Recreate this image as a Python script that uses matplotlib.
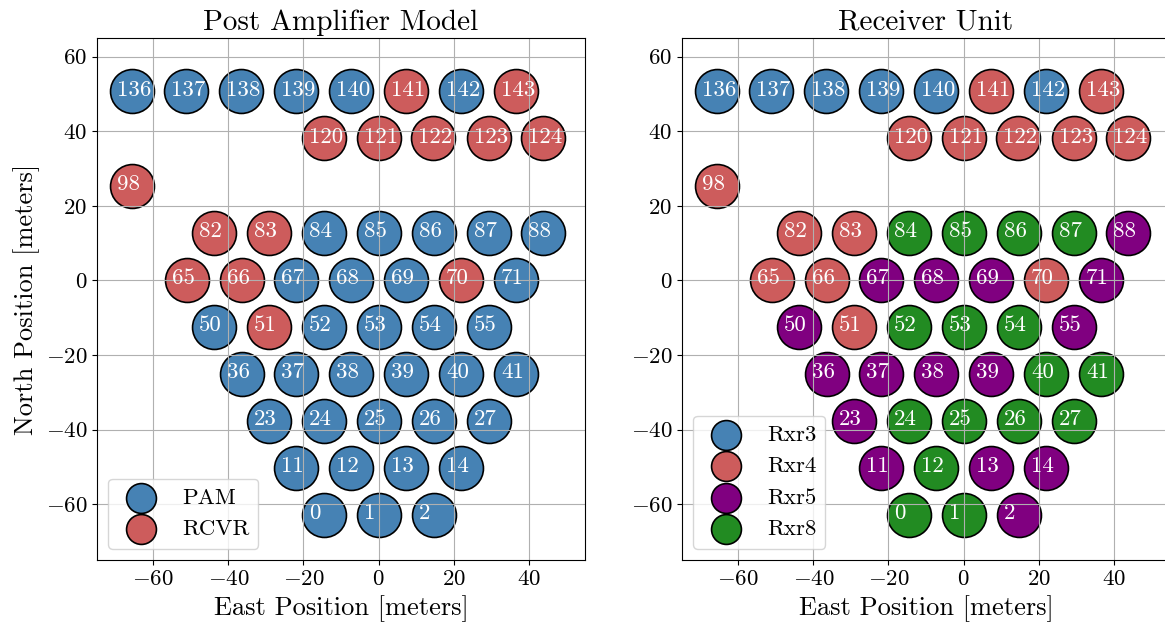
import matplotlib
matplotlib.use("Agg")
import matplotlib.pyplot as plt

# numeros de antena y posiciones (metros)
antennas = [136, 137, 138, 139, 140, 141, 142, 143,
            120, 121, 122, 123, 124,
            98,
            82, 83, 84, 85, 86, 87, 88,
            65, 66, 67, 68, 69, 70, 71,
            50, 51, 52, 53, 54, 55,
            36, 37, 38, 39, 40, 41,
            23, 24, 25, 26, 27,
            11, 12, 13, 14,
            0, 1, 2]
east = [-65.8, -51.2, -36.6, -22.0, -7.4, 7.4, 21.9, 36.5,
        -14.5, 0.0, 14.6, 29.3, 43.9,
        -65.8,
        -43.8, -29.2, -14.5, 0.1, 14.7, 29.3, 43.9,
        -51.1, -36.5, -21.9, -7.3, 7.4, 22.0, 36.6,
        -43.8, -29.2, -14.5, 0.1, 14.7, 29.3,
        -36.5, -21.9, -7.3, 7.4, 22.0, 36.6,
        -29.2, -14.5, 0.1, 14.7, 29.3,
        -21.9, -7.3, 7.4, 22.0,
        -14.5, 0.1, 14.7]
north = [50.7, 50.7, 50.7, 50.7, 50.7, 50.7, 50.7, 50.7,
         38.1, 38.1, 38.1, 38.1, 38.1,
         25.4,
         12.8, 12.8, 12.8, 12.8, 12.8, 12.8, 12.8,
         0.2, 0.2, 0.2, 0.2, 0.2, 0.2, 0.2,
         -12.4, -12.4, -12.4, -12.4, -12.4, -12.4,
         -25.0, -25.0, -25.0, -25.0, -25.0, -25.0,
         -37.6, -37.6, -37.6, -37.6, -37.6,
         -50.2, -50.2, -50.2, -50.2,
         -62.8, -62.8, -62.8]

# asignaciones
rcvr_ants = [141, 143, 120, 121, 122, 123, 124, 98, 82, 83, 65, 66, 70, 51]
rxr_groups = {
    "Rxr3": [136, 137, 138, 139, 140, 142],
    "Rxr4": [141, 143, 120, 121, 122, 123, 124, 98, 82, 83, 65, 66, 70, 51],
    "Rxr5": [88, 67, 68, 69, 71, 50, 55, 36, 37, 38, 39, 23, 11, 13, 14, 2],
    "Rxr8": [84, 85, 86, 87, 52, 53, 54, 40, 41, 24, 25, 26, 27, 12, 0, 1],
}
pam_groups = {
    "PAM": [a for a in antennas if a not in rcvr_ants],
    "RCVR": rcvr_ants,
}
colores = {"PAM": "steelblue", "RCVR": "indianred",
           "Rxr3": "steelblue", "Rxr4": "indianred",
           "Rxr5": "purple", "Rxr8": "forestgreen"}

plt.rcParams["font.family"] = "cmr10"
plt.rcParams["mathtext.fontset"] = "cm"
plt.rcParams["axes.formatter.use_mathtext"] = True


def dibujar(ax, grupos, titulo):
    for nombre, lista in grupos.items():
        xs = [east[antennas.index(a)] for a in lista]
        ys = [north[antennas.index(a)] for a in lista]
        ax.scatter(xs, ys, s=1000, c=colores[nombre], edgecolors="black",
                   linewidths=1.2, label=nombre)
    for a, x, y in zip(antennas, east, north):
        ax.text(x - 4.0, y - 1.3, str(a), color="white", fontsize=16.5,
                ha="left", va="baseline", zorder=3)
    ax.set_xlim(-75, 55)
    ax.set_ylim(-75, 65)
    ax.set_xticks([-60, -40, -20, 0, 20, 40])
    ax.set_yticks([-60, -40, -20, 0, 20, 40, 60])
    ax.grid(True, color="#b0b0b0", lw=0.8)
    ax.tick_params(labelsize=16.5)
    ax.set_title(titulo, fontsize=21)
    ax.set_xlabel("East Position [meters]", fontsize=19)
    ax.legend(loc="lower left", fontsize=16.5, markerscale=0.68)


fig = plt.figure(figsize=(11.65, 6.26), dpi=100)
ax1 = fig.add_axes([97 / 1165, 66 / 626, 488 / 1165, 522 / 626])
ax2 = fig.add_axes([682 / 1165, 66 / 626, 488 / 1165, 522 / 626])

dibujar(ax1, pam_groups, "Post Amplifier Model")
dibujar(ax2, rxr_groups, "Receiver Unit")
ax1.set_ylabel("North Position [meters]", fontsize=19)

fig.savefig("out.png", dpi=100)
